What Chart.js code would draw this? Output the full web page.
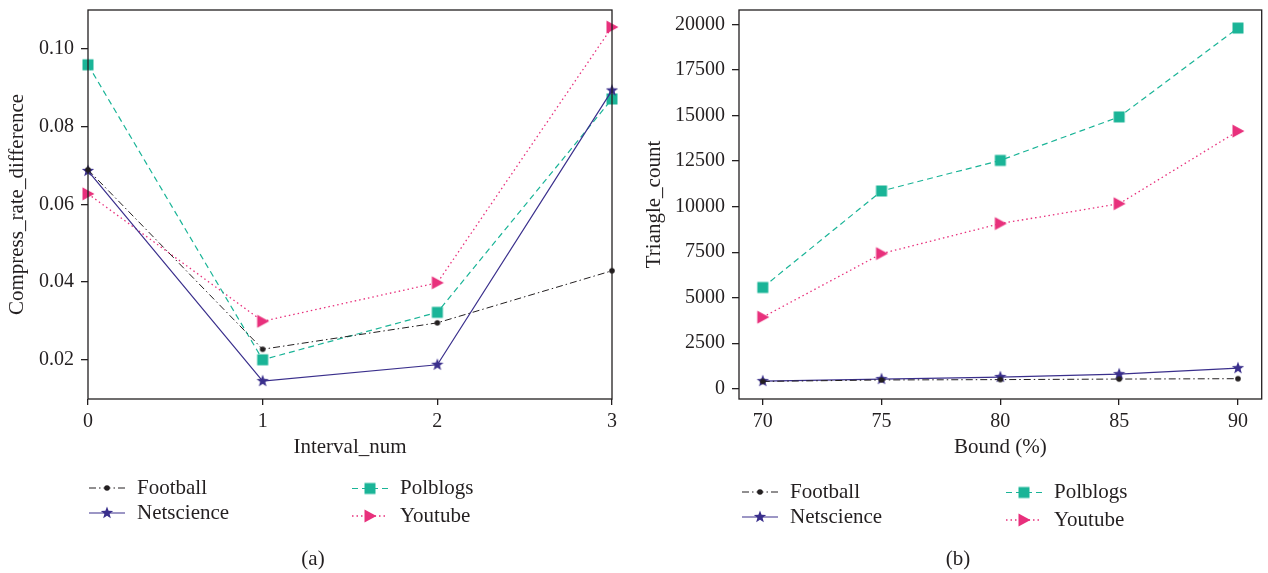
<!DOCTYPE html>
<html>
<head>
<meta charset="utf-8">
<script src="https://cdn.jsdelivr.net/npm/chart.js@4.4.1/dist/chart.umd.min.js"></script>
<style>
    html, body { margin: 0; padding: 0; background: #fff; }
    #wrap { position: relative; width: 1268px; height: 573px; }
    .panel { position: absolute; top: 0; width: 634px; height: 573px; }
</style>
</head>
<body>
<div id="wrap">
    <div class="panel" style="left:0"><canvas id="chartA" width="634" height="573"></canvas></div>
    <div class="panel" style="left:634px"><canvas id="chartB" width="634" height="573"></canvas></div>
</div>
<script>
const seriesNames = ['Football', 'Netscience', 'Polblogs', 'Youtube'];

// (a) Compress_rate_difference vs Interval_num
const intervalNum = [0, 1, 2, 3];
const footballA = [0.0689, 0.0227, 0.0295, 0.0429];
const netscienceA = [0.0686, 0.0145, 0.0187, 0.0893];
const polblogsA = [0.0959, 0.0200, 0.0322, 0.0871];
const youtubeA = [0.0627, 0.0299, 0.0398, 0.1056];
const yTicksA = [0.02, 0.04, 0.06, 0.08, 0.10];

// (b) Triangle_count vs Bound (%)
const boundPct = [70, 75, 80, 85, 90];
const footballB = [400, 480, 500, 530, 550];
const netscienceB = [420, 530, 640, 800, 1130];
const polblogsB = [5560, 10860, 12540, 14930, 19810];
const youtubeB = [3930, 7420, 9070, 10160, 14150];
const yTicksB = [0, 2500, 5000, 7500, 10000, 12500, 15000, 17500, 20000];

const FONT = '"Liberation Serif", "DejaVu Serif", serif';
const INK = '#231f20';

// marker pictures, used both on the lines and in the legend
function marker(kind, color) {
    const c = document.createElement('canvas');
    c.width = 16; c.height = 16;
    const g = c.getContext('2d');
    g.fillStyle = color;
    g.translate(8, 8);
    g.beginPath();
    if (kind === 'dot') {
        g.arc(0, 0, 2.8, 0, Math.PI * 2);
    } else if (kind === 'square') {
        g.rect(-5.5, -5.5, 11, 11);
    } else if (kind === 'tri') {
        g.moveTo(6.5, 0);
        g.lineTo(-5.5, -6.5);
        g.lineTo(-5.5, 6.5);
        g.closePath();
    } else if (kind === 'star') {
        for (let i = 0; i < 10; i++) {
            const r = i % 2 ? 2.7 : 6.5;
            const a = -Math.PI / 2 + i * Math.PI / 5;
            if (i === 0) g.moveTo(r * Math.cos(a), r * Math.sin(a));
            else g.lineTo(r * Math.cos(a), r * Math.sin(a));
        }
        g.closePath();
    }
    g.fill();
    return c;
}

const seriesStyle = [
    { color: INK, dash: [7, 3, 1.5, 3], width: 1, img: marker('dot', INK) },
    { color: '#3a2f8c', dash: [], width: 1.2, img: marker('star', '#3a2f8c') },
    { color: '#1ab497', dash: [6, 4], width: 1.2, img: marker('square', '#1ab497') },
    { color: '#e8307c', dash: [1.5, 3], width: 1.3, img: marker('tri', '#e8307c') }
];

// frame box, legend and (a)/(b) caption
Chart.register({
    id: 'panelDecor',
    afterDraw: function(chart, args, opts) {
        const ctx = chart.ctx;
        const a = chart.chartArea;
        ctx.save();
        ctx.strokeStyle = INK;
        ctx.lineWidth = 1.3;
        ctx.strokeRect(a.left, a.top, a.right - a.left, a.bottom - a.top);

        ctx.font = '21px ' + FONT;
        ctx.fillStyle = INK;
        ctx.textBaseline = 'middle';
        chart.data.datasets.forEach(function(ds, i) {
            const col = opts.cols[Math.floor(i / 2)];
            const x = col.x;
            const y = col.rows[i % 2];
            const st = seriesStyle[i];
            ctx.strokeStyle = st.color;
            ctx.lineWidth = st.width;
            ctx.setLineDash(st.dash);
            ctx.beginPath();
            ctx.moveTo(x, y);
            ctx.lineTo(x + 36, y);
            ctx.stroke();
            ctx.setLineDash([]);
            ctx.drawImage(st.img, x + 18 - 8, y - 8);
            ctx.fillStyle = INK;
            ctx.textAlign = 'left';
            ctx.fillText(ds.label, x + 48, y);
        });

        ctx.textAlign = 'center';
        ctx.fillText(opts.caption, opts.captionX, 559);
        ctx.restore();
    }
});

function buildChart(id, xs, seriesVals, cfg) {
    const datasets = seriesVals.map(function(vals, i) {
        const st = seriesStyle[i];
        return {
            label: seriesNames[i],
            data: xs.map(function(x, k) { return { x: x, y: vals[k] }; }),
            borderColor: st.color,
            backgroundColor: st.color,
            borderWidth: st.width,
            borderDash: st.dash,
            pointStyle: st.img,
            pointRadius: 5,
            tension: 0,
            clip: false
        };
    });

    return new Chart(document.getElementById(id), {
        type: 'line',
        data: { datasets: datasets },
        options: {
            responsive: false,
            animation: false,
            events: [],
            layout: { padding: { left: 0, right: cfg.padRight, top: 10, bottom: 113 } },
            plugins: {
                legend: { display: false },
                tooltip: { enabled: false },
                panelDecor: cfg.decor
            },
            scales: {
                x: {
                    type: 'linear',
                    min: cfg.xMin,
                    max: cfg.xMax,
                    afterBuildTicks: function(s) { s.ticks = xs.map(function(v) { return { value: v }; }); },
                    afterFit: function(s) { s.height = 61; s.paddingLeft = 0; s.paddingRight = 0; },
                    border: { display: false },
                    grid: { drawOnChartArea: false, tickLength: 6, color: INK, lineWidth: 1.3 },
                    ticks: { font: { family: FONT, size: 20 }, color: INK, padding: 5, maxRotation: 0 },
                    title: { display: true, text: cfg.xTitle, color: INK, font: { family: FONT, size: 21 }, padding: { top: 0, bottom: 0 } }
                },
                y: {
                    min: cfg.yMin,
                    max: cfg.yMax,
                    afterBuildTicks: function(s) { s.ticks = cfg.yTicks.map(function(v) { return { value: v }; }); },
                    afterFit: function(s) { s.width = cfg.yWidth; s.paddingTop = 0; s.paddingBottom = 0; },
                    border: { display: false },
                    grid: { drawOnChartArea: false, tickLength: 7, color: INK, lineWidth: 1.3 },
                    ticks: { font: { family: FONT, size: 20 }, color: INK, padding: 7, callback: cfg.yFmt },
                    title: { display: true, text: cfg.yTitle, color: INK, font: { family: FONT, size: 21 }, padding: { top: cfg.yTitlePad, bottom: 0 } }
                }
            }
        }
    });
}

buildChart('chartA', intervalNum, [footballA, netscienceA, polblogsA, youtubeA], {
    xMin: 0, xMax: 3, yMin: 0.0099, yMax: 0.110,
    yTicks: yTicksA,
    yFmt: function(v) { return v.toFixed(2); },
    xTitle: 'Interval_num', yTitle: 'Compress_rate_difference',
    yWidth: 88, yTitlePad: 5, padRight: 22,
    decor: {
        cols: [{ x: 89, rows: [488, 513] }, { x: 352, rows: [488.5, 516] }],
        caption: '(a)', captionX: 313
    }
});

buildChart('chartB', boundPct, [footballB, netscienceB, polblogsB, youtubeB], {
    xMin: 69, xMax: 91, yMin: -565, yMax: 20800,
    yTicks: yTicksB,
    yFmt: function(v) { return String(v); },
    xTitle: 'Bound (%)', yTitle: 'Triangle_count',
    yWidth: 105, yTitlePad: 8, padRight: 6,
    decor: {
        cols: [{ x: 108, rows: [492, 517] }, { x: 372, rows: [492.5, 520] }],
        caption: '(b)', captionX: 324
    }
});
</script>
</body>
</html>
